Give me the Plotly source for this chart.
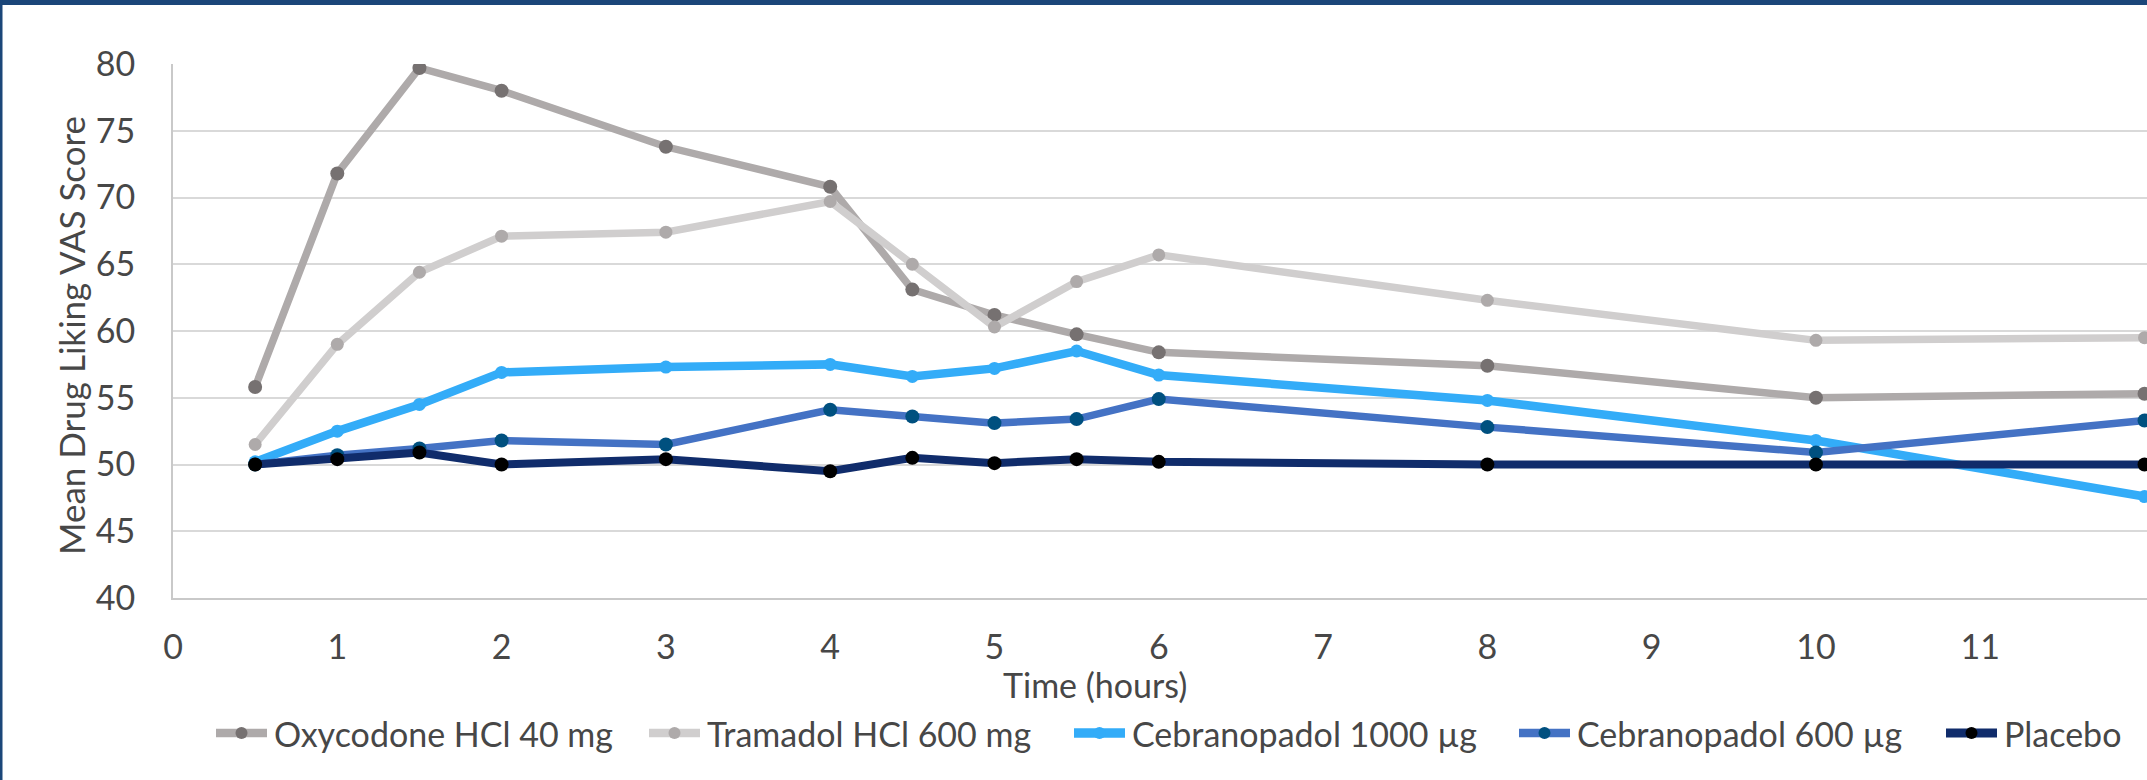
import plotly.graph_objects as go

# ---------------- data ----------------
time_h = [0.5, 1, 1.5, 2, 3, 4, 4.5, 5, 5.5, 6, 8, 10, 12]
oxycodone = [55.8, 71.8, 79.7, 78.0, 73.8, 70.8, 63.1, 61.2, 59.75, 58.4, 57.4, 55.0, 55.3]
tramadol = [51.5, 59.0, 64.4, 67.1, 67.4, 69.7, 65.0, 60.3, 63.7, 65.7, 62.3, 59.3, 59.5]
ceb1000 = [50.2, 52.5, 54.5, 56.9, 57.3, 57.5, 56.6, 57.2, 58.5, 56.7, 54.8, 51.8, 47.6]
ceb600 = [50.0, 50.7, 51.2, 51.8, 51.5, 54.1, 53.6, 53.1, 53.4, 54.9, 52.8, 50.9, 53.3]
placebo = [50.0, 50.4, 50.9, 50.0, 50.4, 49.5, 50.5, 50.1, 50.4, 50.2, 50.0, 50.0, 50.0]

series_names = ["Oxycodone HCl 40 mg", "Tramadol HCl 600 mg", "Cebranopadol 1000 µg",
                "Cebranopadol 600 µg", "Placebo"]
series_values = [oxycodone, tramadol, ceb1000, ceb600, placebo]

x_ticks = list(range(0, 13))
y_ticks = list(range(40, 85, 5))
x_title = "Time (hours)"
y_title = "Mean Drug Liking VAS Score"

# ---------------- styles ----------------
line_colors = ["#AEAAAA", "#D0CECE", "#33ACF8", "#4472C4", "#102C6B"]
marker_colors = ["#767171", "#AEAAAA", "#33ACF8", "#00507F", "#000000"]
line_widths = [7.5, 7.5, 8.5, 7.5, 8]
marker_sizes = [14, 13, 13, 14, 14]

FONT = "Lato"
FS = 34
TXT = "#474747"

W, H = 2147, 780
ML, MR, MT, MB = 173, 0, 64, 182
PW = W - ML - MR
PH = H - MT - MB


def px2x(px):
    return (px - ML) / PW


def py2y(py):
    return (H - MB - py) / PH


fig = go.Figure()
for name, vals, lc, mc, lw, ms in zip(series_names, series_values, line_colors,
                                      marker_colors, line_widths, marker_sizes):
    fig.add_trace(go.Scatter(
        x=time_h, y=vals, name=name, mode="lines+markers",
        line=dict(color=lc, width=lw),
        marker=dict(color=mc, size=ms, line=dict(width=0)),
        showlegend=False,
    ))

shapes = []
annotations = []

# manual legend (positions in pixels)
legend_line_start = [213, 646, 1071, 1516, 1943]
legend_y = 733
for name, lc, mc, lw, lx in zip(series_names, line_colors, marker_colors,
                                line_widths, legend_line_start):
    shapes.append(dict(type="line", xref="paper", yref="paper",
                       x0=px2x(lx + 3), x1=px2x(lx + 54), y0=py2y(legend_y), y1=py2y(legend_y),
                       line=dict(color=lc, width=lw + 1)))
    cx = lx + 28.5
    ms = 12
    shapes.append(dict(type="circle", xref="paper", yref="paper",
                       xsizemode="pixel", ysizemode="pixel",
                       xanchor=px2x(cx), yanchor=py2y(legend_y),
                       x0=-ms / 2, x1=ms / 2, y0=-ms / 2, y1=ms / 2,
                       fillcolor=mc, line=dict(width=0)))
    annotations.append(dict(text=name, xref="paper", yref="paper",
                            x=px2x(lx + 59), y=py2y(legend_y),
                            xanchor="left", yanchor="middle", showarrow=False,
                            font=dict(family=FONT, size=FS, color=TXT)))

# axis titles
annotations.append(dict(text=x_title, xref="paper", yref="paper",
                        x=px2x(1095), y=py2y(684), xanchor="center", yanchor="middle",
                        showarrow=False, font=dict(family=FONT, size=FS, color=TXT)))
annotations.append(dict(text=y_title, xref="paper", yref="paper", textangle=-90,
                        x=px2x(71), y=py2y(336), xanchor="center", yanchor="middle",
                        showarrow=False, font=dict(family=FONT, size=35, color=TXT)))

# frame border (dark blue top band and left edge)
border = "#1B4679"
shapes.append(dict(type="rect", xref="paper", yref="paper", layer="above",
                   x0=px2x(0), x1=px2x(W), y0=py2y(5), y1=py2y(0),
                   fillcolor=border, line=dict(width=0)))
shapes.append(dict(type="rect", xref="paper", yref="paper", layer="above",
                   x0=px2x(0), x1=px2x(2.5), y0=py2y(H), y1=py2y(0),
                   fillcolor=border, line=dict(width=0)))

fig.update_layout(
    width=W, height=H,
    margin=dict(l=ML, r=MR, t=MT, b=MB, pad=0),
    paper_bgcolor="white", plot_bgcolor="white",
    font=dict(family=FONT, size=FS, color=TXT),
    showlegend=False,
    shapes=shapes,
    annotations=annotations,
    xaxis=dict(range=[0, 12.015], tickmode="array", tickvals=x_ticks,
               showgrid=False, zeroline=False, showline=True,
               linecolor="#C9C9C9", linewidth=2, ticks="",
               ticklabelstandoff=18,
               tickfont=dict(family=FONT, size=FS, color=TXT)),
    yaxis=dict(range=[40, 80], tickmode="array", tickvals=y_ticks,
               showgrid=True, gridcolor="#D9D9D9", gridwidth=2,
               zeroline=False, showline=True, linecolor="#C9C9C9", linewidth=2,
               ticks="", ticklabelstandoff=29,
               tickfont=dict(family=FONT, size=FS, color=TXT)),
)

fig.write_html("out.html", config={"displayModeBar": False},
               post_script="document.body.style.margin='0';document.body.style.overflow='hidden';")
